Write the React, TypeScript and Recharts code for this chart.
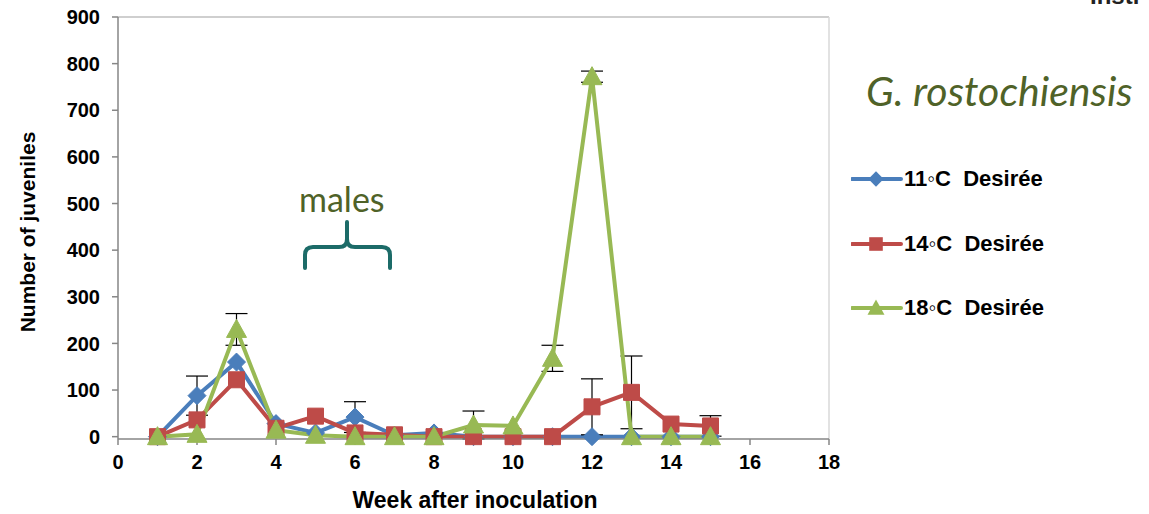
import { LineChart, Line, XAxis, YAxis, ErrorBar, ReferenceLine } from 'recharts';

const weeks = [1, 2, 3, 4, 5, 6, 7, 8, 9, 10, 11, 12, 13, 14, 15];
const desiree11 = [0, 88, 160, 28, 8, 42, 3, 8, 0, 0, 0, 0, 0, 0, 0];
const desiree14 = [0, 36, 122, 18, 44, 8, 4, 0, 0, 0, 0, 64, 95, 27, 23];
const desiree18 = [0, 5, 230, 14, 3, 0, 0, 0, 25, 23, 168, 772, 0, 0, 0];
const err11 = [null, 42, null, null, null, 33, null, null, null, null, null, null, null, null, null];
const err14 = [null, null, null, null, null, null, null, null, null, null, null, 60, 78, null, 22];
const err18 = [null, null, 34, null, null, null, null, null, 30, null, 28, 12, null, null, null];

const xTicks = [0, 2, 4, 6, 8, 10, 12, 14, 16, 18];
const yTicks = [0, 100, 200, 300, 400, 500, 600, 700, 800, 900];

const BLUE = '#4a7ebb';
const RED = '#be4b48';
const GREEN = '#98b954';
const OLIVE = '#4f6228';

const data = weeks.map((w, i) => ({
  week: w,
  d11: desiree11[i],
  d14: desiree14[i],
  d18: desiree18[i],
  e11: err11[i],
  e14: err14[i],
  e18: err18[i],
}));

const series = [
  { key: 'd11', err: 'e11', name: '11\u25E6C  Desirée', color: BLUE, shape: 'diamond' },
  { key: 'd14', err: 'e14', name: '14\u25E6C  Desirée', color: RED, shape: 'square' },
  { key: 'd18', err: 'e18', name: '18\u25E6C  Desirée', color: GREEN, shape: 'triangle' },
];

const markerPath = (shape: string, cx: number, cy: number) => {
  if (shape === 'diamond') return `M${cx},${cy - 9}L${cx + 9},${cy}L${cx},${cy + 9}L${cx - 9},${cy}Z`;
  if (shape === 'square') return `M${cx - 8},${cy - 8}h16v16h-16Z`;
  return `M${cx},${cy - 10}L${cx + 10},${cy + 8}L${cx - 10},${cy + 8}Z`;
};

const makeDot = (shape: string, color: string) => (props: any) => {
  const { cx, cy, index } = props;
  if (cx == null || cy == null) return <g key={index} />;
  return <path key={index} d={markerPath(shape, cx, cy)} fill={color} stroke={color} strokeWidth={1} />;
};

const font = '"Liberation Sans", Arial, sans-serif';

export default function App() {
  return (
    <div style={{ position: 'absolute', left: 0, top: 0, width: 1149, height: 514, background: '#fff', overflow: 'hidden', fontFamily: font }}>
      <LineChart width={1149} height={514} data={data} margin={{ top: 17, right: 320, bottom: 0, left: 0 }}>
        <XAxis
          type="number"
          dataKey="week"
          domain={[0, 18]}
          ticks={xTicks}
          interval={0}
          height={75}
          axisLine={{ stroke: '#868686', strokeWidth: 1.5 }}
          tickLine={{ stroke: '#868686', strokeWidth: 1.5 }}
          tickSize={6}
          tickMargin={10}
          tick={{ fill: '#000', fontSize: 20, fontWeight: 700, fontFamily: font }}
        />
        <YAxis
          type="number"
          domain={[0, 900]}
          ticks={yTicks}
          interval={0}
          width={118}
          axisLine={{ stroke: '#868686', strokeWidth: 1.5 }}
          tickLine={{ stroke: '#868686', strokeWidth: 1.5 }}
          tickSize={6}
          tickMargin={12}
          tick={{ fill: '#000', fontSize: 20, fontWeight: 700, fontFamily: font }}
        />
        <ReferenceLine y={900} stroke="#bfbfbf" strokeWidth={1.5} />
        <ReferenceLine x={18} stroke="#d9d9d9" strokeWidth={1.5} />
        {series.map((s) => (
          <Line
            key={s.key}
            type="linear"
            dataKey={s.key}
            name={s.name}
            stroke={s.color}
            strokeWidth={4}
            dot={makeDot(s.shape, s.color)}
            activeDot={false}
            isAnimationActive={false}
          >
            <ErrorBar dataKey={s.err} direction="y" width={11} stroke="#000" strokeWidth={1.2} />
          </Line>
        ))}
      </LineChart>

      {/* axis titles */}
      <div style={{ position: 'absolute', left: 0, top: 487, width: 950, textAlign: 'center', fontSize: 23, fontWeight: 700, lineHeight: '26px' }}>
        Week after inoculation
      </div>
      <div style={{ position: 'absolute', left: 28, top: 232, width: 0, height: 0 }}>
        <div style={{ position: 'absolute', left: -150, top: -12, width: 300, textAlign: 'center', fontSize: 21, fontWeight: 700, lineHeight: '24px', transform: 'rotate(-90deg)' }}>
          Number of juveniles
        </div>
      </div>

      {/* legend */}
      <div style={{ position: 'absolute', left: 851, top: 165 }}>
        {series.map((s, i) => (
          <div key={s.key} style={{ position: 'absolute', left: 0, top: i * 64.5, display: 'flex', alignItems: 'center', whiteSpace: 'pre', height: 28 }}>
            <svg width={52} height={28}>
              <line x1={1} y1={14} x2={50} y2={14} stroke={s.color} strokeWidth={4} strokeLinecap="round" />
              <path d={markerPath(s.shape, 25, 14)} fill={s.color} transform="translate(25,14) scale(0.85) translate(-25,-14)" />
            </svg>
            <span style={{ fontSize: 22, fontWeight: 700, marginLeft: 1 }}>{s.name}</span>
          </div>
        ))}
      </div>

      {/* annotations */}
      <div style={{ position: 'absolute', left: 866, top: 66, fontFamily: 'Lato, "Open Sans", sans-serif', fontStyle: 'italic', fontSize: 41, color: OLIVE, lineHeight: '50px', whiteSpace: 'nowrap' }}>
        G. rostochiensis
      </div>
      <div style={{ position: 'absolute', left: 299, top: 179, fontFamily: 'Lato, "Open Sans", sans-serif', fontSize: 34, color: OLIVE, lineHeight: '40px' }}>
        males
      </div>
      <svg style={{ position: 'absolute', left: 0, top: 0 }} width={1149} height={514} pointerEvents="none">
        <path
          d="M305,268 L305,255 Q305,247 313,247 L339,247 Q347,247 347,239 L347,222 M347,239 Q347,247 355,247 L382,247 Q390,247 390,255 L390,268"
          fill="none"
          stroke="#1c6b68"
          strokeWidth={4}
          strokeLinecap="round"
        />
      </svg>
      <div style={{ position: 'absolute', left: 1090, top: -16, fontSize: 24, fontWeight: 700, color: '#222', lineHeight: '24px' }}>
        Insti
      </div>
    </div>
  );
}
